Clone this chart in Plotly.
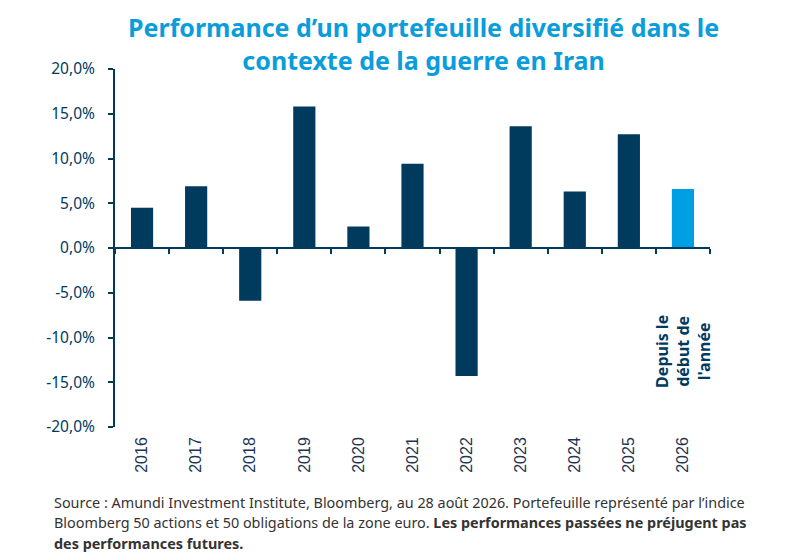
import plotly.graph_objects as go

# data
years = ["2016", "2017", "2018", "2019", "2020", "2021", "2022", "2023", "2024", "2025", "2026"]
perf = [4.5, 6.9, -5.9, 15.8, 2.4, 9.4, -14.3, 13.6, 6.3, 12.7, 6.6]
y_ticks = [20, 15, 10, 5, 0, -5, -10, -15, -20]
y_labels = ["20,0%", "15,0%", "10,0%", "5,0%", "0,0%", "-5,0%", "-10,0%", "-15,0%", "-20,0%"]
ytd_label = "<b>Depuis le<br>début de<br>l'année</b>"
title_text = "<b>Performance d’un portefeuille diversifié dans le<br>contexte de la guerre en Iran</b>"
source_lines = [
    "Source : Amundi Investment Institute, Bloomberg, au 28 août 2026. Portefeuille représenté par l’indice",
    "Bloomberg 50 actions et 50 obligations de la zone euro. <b>Les performances passées ne préjugent pas</b>",
    "<b>des performances futures.</b>",
]

NAVY = "#003a5d"
LIGHT = "#009fe3"
TITLE_BLUE = "#0a9ddb"
FONT = "Noto Sans"

y_min, y_max = -20, 20
x_range = [-0.5, len(years) - 0.5]
bar_colors = [NAVY] * (len(years) - 1) + [LIGHT]

fig = go.Figure()
fig.add_trace(go.Bar(x=years, y=perf, marker=dict(color=bar_colors, line=dict(width=0)),
                     width=0.41, hoverinfo="x+y"))
# invisible trace that carries the axis drawn on the zero line
fig.add_trace(go.Scatter(x=years, y=[0] * len(years), xaxis="x2", mode="markers",
                         marker=dict(opacity=0), hoverinfo="skip", showlegend=False))

# label under the year-to-date bar (last category)
fig.add_annotation(x=len(years) - 1, y=-11.5, xref="x", yref="y", text=ytd_label,
                   textangle=-90, showarrow=False, xanchor="center", yanchor="middle",
                   font=dict(family=FONT, size=16, color=NAVY))

fig.add_annotation(x=0.519, y=1.071, xref="paper", yref="paper", text=title_text,
                   showarrow=False, yanchor="middle",
                   font=dict(family=FONT, size=25, color=TITLE_BLUE))

for i, line in enumerate(source_lines):
    fig.add_annotation(x=-0.106, y=-0.2095 - i * 0.0575, xref="paper", yref="paper", text=line,
                       xanchor="left", yanchor="middle", showarrow=False, align="left",
                       font=dict(family=FONT, size=14.4, color="#333333"))

# page body has an 8px margin, so the margins are shifted back by 8px
fig.update_layout(
    width=800, height=552,
    margin=dict(l=107, r=98, t=61, b=133, autoexpand=False),
    paper_bgcolor="white", plot_bgcolor="white",
    showlegend=False,
    font=dict(family=FONT, color=NAVY),
    xaxis=dict(type="category", range=x_range, showline=False, ticks="", tickangle=-90,
               ticklabelstandoff=6,
               tickfont=dict(family="Liberation Sans", size=16, color="#1d3553"),
               showgrid=False, zeroline=False, automargin=False),
    xaxis2=dict(type="category", overlaying="x", range=x_range, anchor="free",
                position=(0 - y_min) / (y_max - y_min), side="bottom",
                showline=True, linecolor=NAVY, linewidth=2,
                ticks="outside", tickson="boundaries", ticklen=5, tickwidth=2, tickcolor=NAVY,
                showticklabels=False, showgrid=False, zeroline=False, automargin=False),
    yaxis=dict(range=[y_min, y_max], tickvals=y_ticks, ticktext=y_labels,
               showline=True, linecolor=NAVY, linewidth=2,
               ticks="outside", ticklen=5, tickwidth=2, tickcolor=NAVY, ticklabelstandoff=10,
               tickfont=dict(family=FONT, size=15.5, color=NAVY),
               showgrid=False, zeroline=False, automargin=False),
)

fig.write_html("out.html")
